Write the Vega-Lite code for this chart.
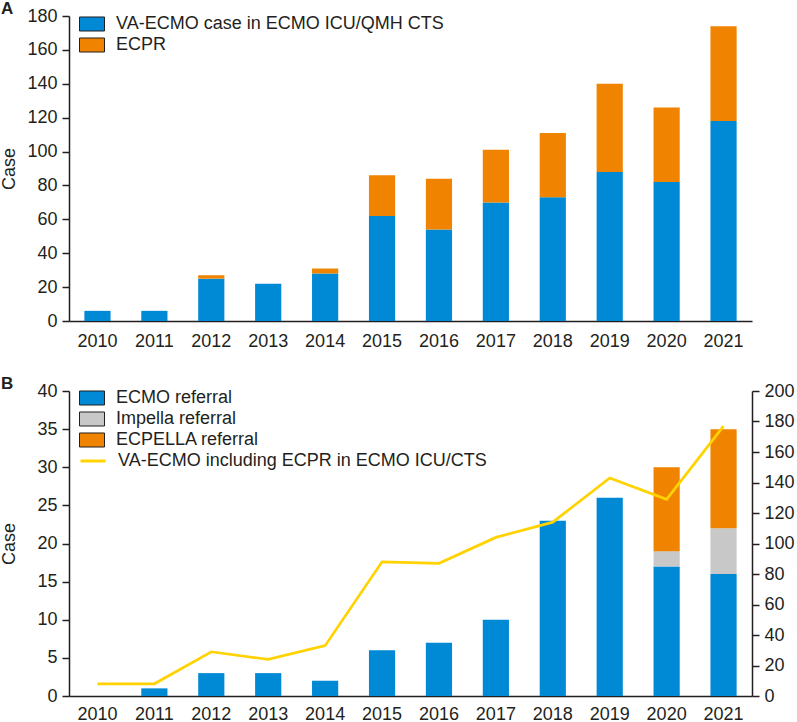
{
  "$schema": "https://vega.github.io/schema/vega-lite/v6.json",
  "padding": {"left": 0, "top": 0, "right": 0, "bottom": 0},
  "background": "white",
  "spacing": 25,
  "resolve": {"legend": {"color": "independent", "fill": "independent", "stroke": "independent"}, "scale": {"color": "independent", "fill": "independent", "stroke": "independent"}},
  "config": {
    "font": "Liberation Sans",
    "view": {"stroke": null},
    "axis": {
      "grid": false,
      "labelFont": "Liberation Sans",
      "labelFontSize": 18,
      "labelColor": "#231f20",
      "titleFont": "Liberation Sans",
      "titleFontSize": 18,
      "titleFontWeight": "normal",
      "titleColor": "#231f20",
      "domainColor": "#231f20",
      "domainWidth": 1.5,
      "tickColor": "#231f20",
      "tickWidth": 1.5,
      "tickSize": 7,
      "labelPadding": 5
    },
    "legend": {
      "labelFont": "Liberation Sans",
      "labelFontSize": 18,
      "labelColor": "#231f20",
      "labelLimit": 500,
      "padding": 0,
      "rowPadding": 0,
      "labelOffset": 13,
      "symbolSize": 441,
      "symbolStrokeColor": "#231f20",
      "symbolStrokeWidth": 1,
      "symbolOpacity": 1
    },
    "title": {"font": "Liberation Sans", "color": "#231f20"}
  },
  "datasets": {
    "a": [
      {"year": "2010", "type": "VA-ECMO case in ECMO ICU/QMH CTS", "value": 6},
      {"year": "2011", "type": "VA-ECMO case in ECMO ICU/QMH CTS", "value": 6},
      {"year": "2012", "type": "VA-ECMO case in ECMO ICU/QMH CTS", "value": 25},
      {"year": "2012", "type": "ECPR", "value": 2},
      {"year": "2013", "type": "VA-ECMO case in ECMO ICU/QMH CTS", "value": 22},
      {"year": "2014", "type": "VA-ECMO case in ECMO ICU/QMH CTS", "value": 28},
      {"year": "2014", "type": "ECPR", "value": 3},
      {"year": "2015", "type": "VA-ECMO case in ECMO ICU/QMH CTS", "value": 62},
      {"year": "2015", "type": "ECPR", "value": 24},
      {"year": "2016", "type": "VA-ECMO case in ECMO ICU/QMH CTS", "value": 54},
      {"year": "2016", "type": "ECPR", "value": 30},
      {"year": "2017", "type": "VA-ECMO case in ECMO ICU/QMH CTS", "value": 70},
      {"year": "2017", "type": "ECPR", "value": 31},
      {"year": "2018", "type": "VA-ECMO case in ECMO ICU/QMH CTS", "value": 73},
      {"year": "2018", "type": "ECPR", "value": 38},
      {"year": "2019", "type": "VA-ECMO case in ECMO ICU/QMH CTS", "value": 88},
      {"year": "2019", "type": "ECPR", "value": 52},
      {"year": "2020", "type": "VA-ECMO case in ECMO ICU/QMH CTS", "value": 82},
      {"year": "2020", "type": "ECPR", "value": 44},
      {"year": "2021", "type": "VA-ECMO case in ECMO ICU/QMH CTS", "value": 118},
      {"year": "2021", "type": "ECPR", "value": 56}
    ],
    "bbars": [
      {"year": "2010", "type": "ECMO referral", "rank": 1, "value": 0},
      {"year": "2011", "type": "ECMO referral", "rank": 1, "value": 1},
      {"year": "2012", "type": "ECMO referral", "rank": 1, "value": 3},
      {"year": "2013", "type": "ECMO referral", "rank": 1, "value": 3},
      {"year": "2014", "type": "ECMO referral", "rank": 1, "value": 2},
      {"year": "2015", "type": "ECMO referral", "rank": 1, "value": 6},
      {"year": "2016", "type": "ECMO referral", "rank": 1, "value": 7},
      {"year": "2017", "type": "ECMO referral", "rank": 1, "value": 10},
      {"year": "2018", "type": "ECMO referral", "rank": 1, "value": 23},
      {"year": "2019", "type": "ECMO referral", "rank": 1, "value": 26},
      {"year": "2020", "type": "ECMO referral", "rank": 1, "value": 17},
      {"year": "2020", "type": "Impella referral", "rank": 2, "value": 2},
      {"year": "2020", "type": "ECPELLA referral", "rank": 3, "value": 11},
      {"year": "2021", "type": "ECMO referral", "rank": 1, "value": 16},
      {"year": "2021", "type": "Impella referral", "rank": 2, "value": 6},
      {"year": "2021", "type": "ECPELLA referral", "rank": 3, "value": 13}
    ],
    "bline": [
      {"year": "2010", "total": 8},
      {"year": "2011", "total": 8},
      {"year": "2012", "total": 29},
      {"year": "2013", "total": 24},
      {"year": "2014", "total": 33},
      {"year": "2015", "total": 88},
      {"year": "2016", "total": 87},
      {"year": "2017", "total": 104},
      {"year": "2018", "total": 114},
      {"year": "2019", "total": 143},
      {"year": "2020", "total": 129},
      {"year": "2021", "total": 177}
    ]
  },
  "vconcat": [
    {
      "width": 683,
      "height": 305,
      "title": {"text": "A", "anchor": "start", "frame": "group", "dx": -68, "fontSize": 17, "fontWeight": "bold", "offset": -11},
      "data": {"name": "a"},
      "mark": {"type": "bar", "width": {"band": 0.46}},
      "encoding": {
        "x": {
          "field": "year", "type": "nominal",
          "scale": {"paddingInner": 0, "paddingOuter": 0},
          "axis": {"title": null, "labelAngle": 0, "ticks": false, "labelPadding": 11}
        },
        "y": {
          "field": "value", "type": "quantitative", "stack": "zero",
          "scale": {"domain": [0, 180], "nice": false},
          "axis": {"title": "Case", "values": [0, 20, 40, 60, 80, 100, 120, 140, 160, 180], "titlePadding": 8}
        },
        "color": {
          "field": "type", "type": "nominal",
          "scale": {"domain": ["VA-ECMO case in ECMO ICU/QMH CTS", "ECPR"], "range": ["#0089d5", "#f08300"]},
          "legend": {
            "title": null, "orient": "none", "legendX": 12, "legendY": -3,
            "symbolType": "M-1.19,-0.667L1.19,-0.667L1.19,0.667L-1.19,0.667Z"
          }
        }
      }
    },
    {
      "width": 683,
      "height": 305,
      "title": {"text": "B", "anchor": "start", "frame": "group", "dx": -68, "fontSize": 17, "fontWeight": "bold", "offset": -11},
      "layer": [
        {
          "data": {"name": "bbars"},
          "mark": {"type": "bar", "width": {"band": 0.46}},
          "encoding": {
            "x": {
              "field": "year", "type": "nominal",
              "scale": {"paddingInner": 0, "paddingOuter": 0},
              "axis": {"title": null, "labelAngle": 0, "ticks": false, "labelPadding": 9}
            },
            "y": {
              "field": "value", "type": "quantitative", "stack": "zero",
              "scale": {"domain": [0, 40], "nice": false},
              "axis": {"title": "Case", "orient": "left", "values": [0, 5, 10, 15, 20, 25, 30, 35, 40], "titlePadding": 18}
            },
            "order": {"field": "rank", "type": "quantitative", "sort": "ascending"},
            "fill": {
              "field": "type", "type": "nominal",
              "scale": {"domain": ["ECMO referral", "Impella referral", "ECPELLA referral"], "range": ["#0089d5", "#c8c8c8", "#f08300"]},
              "legend": {
                "title": null, "orient": "none", "legendX": 12, "legendY": -4,
                "symbolType": "M-1.19,-0.667L1.19,-0.667L1.19,0.667L-1.19,0.667Z"
              }
            }
          }
        },
        {
          "data": {"name": "bline"},
          "mark": {"type": "line", "strokeWidth": 2.7},
          "encoding": {
            "x": {"field": "year", "type": "nominal"},
            "y": {
              "field": "total", "type": "quantitative",
              "scale": {"domain": [0, 200], "nice": false},
              "axis": {"title": null, "orient": "right", "values": [0, 20, 40, 60, 80, 100, 120, 140, 160, 180, 200]}
            },
            "stroke": {
              "datum": "VA-ECMO including ECPR in ECMO ICU/CTS",
              "type": "nominal",
              "scale": {"domain": ["VA-ECMO including ECPR in ECMO ICU/CTS"], "range": ["#ffd200"]},
              "legend": {
                "title": null, "orient": "none", "legendX": 10, "legendY": 56,
                "symbolType": "stroke", "symbolSize": 625, "labelOffset": 11,
                "symbolStrokeWidth": 3, "symbolStrokeColor": "#ffd200"
              }
            }
          }
        }
      ],
      "resolve": {"scale": {"y": "independent"}}
    }
  ]
}
